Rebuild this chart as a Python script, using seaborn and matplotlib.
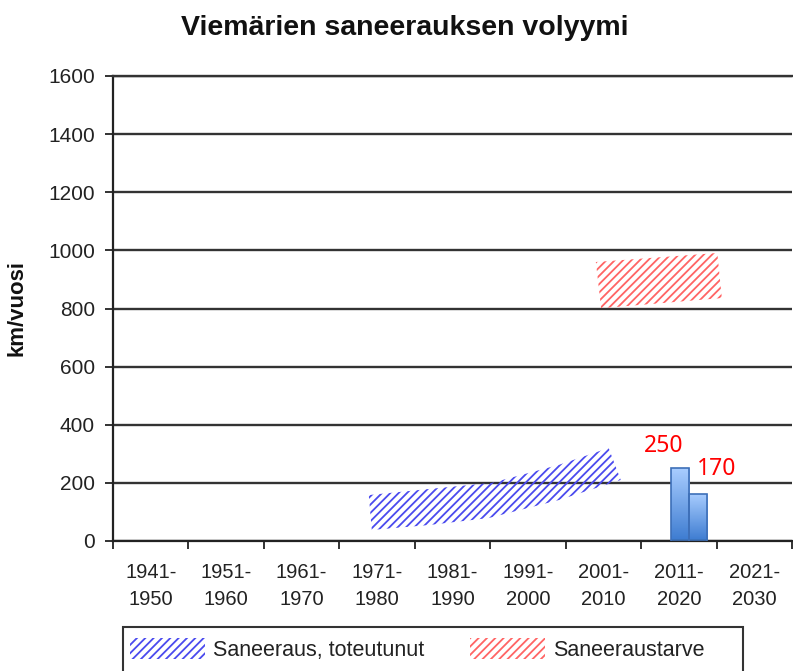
import numpy as np
import pandas as pd
import matplotlib
matplotlib.use("Agg")
import matplotlib.pyplot as plt
import seaborn as sns
from matplotlib.patches import Polygon, Patch, Rectangle

# ---------------- data ----------------
categories = ["1941-1950", "1951-1960", "1961-1970", "1971-1980", "1981-1990",
              "1991-2000", "2001-2010", "2011-2020", "2021-2030"]
tick_labels = [c.replace("-", "-\n") for c in categories]

# realised renovation band (x in category units, values in km/vuosi)
blue_x_upper = [2.89, 3.69, 4.52, 5.41, 6.07]
blue_upper = [158, 179, 200, 262, 320]
blue_x_lower = [2.93, 3.69, 4.48, 5.41, 6.23]
blue_lower = [38, 55, 79, 141, 210]

# renovation need band
red_x_upper = [5.90, 7.51]
red_upper = [960, 991]
red_x_lower = [5.97, 7.57]
red_lower = [801, 836]

bar_category = "2011-2020"
bar_values = [250, 162]
bar_labels = ["250", "170"]

title = "Viemärien saneerauksen volyymi"
ylabel = "km/vuosi"
legend_labels = ["Saneeraus, toteutunut", "Saneeraustarve"]

# ---------------- style ----------------
sns.set_style("white")
plt.rcParams["font.family"] = ["Liberation Sans", "DejaVu Sans"]
plt.rcParams["hatch.linewidth"] = 1.3

W, H = 793, 671
fig = plt.figure(figsize=(W / 100, H / 100), dpi=100)
ax = fig.add_axes([113 / W, 1 - 541 / H, 679 / W, 465 / H])

blue = "#4a4aee"
red = "#ff6464"

# bars
cat_idx = categories.index(bar_category)
bar_x = [cat_idx + 0.135 - 0.12, cat_idx + 0.135 + 0.12]
df = pd.DataFrame({"x": bar_x, "y": bar_values})
sns.barplot(data=df, x="x", y="y", native_scale=True, width=1.0,
            color="#6a9de0", edgecolor="#3d6fb8", linewidth=1.2, ax=ax,
            errorbar=None, legend=False)

grad = np.linspace(0, 1, 256).reshape(-1, 1)
cmap = matplotlib.colors.LinearSegmentedColormap.from_list("g", ["#3c7bd0", "#a9cdff"])
for p in list(ax.patches):
    x0, y0 = p.get_x(), p.get_y()
    w, h = p.get_width(), p.get_height()
    im = ax.imshow(grad, extent=[x0, x0 + w, y0, y0 + h], origin="lower",
                   cmap=cmap, aspect="auto", zorder=2.5)
    im.set_clip_path(p)
    p.set_zorder(2.6)
    p.set_facecolor("none")

# hatched bands
def band(xu, yu, xl, yl, color):
    pts = list(zip(xu, yu)) + list(zip(xl[::-1], yl[::-1]))
    poly = Polygon(pts, closed=True, facecolor="none", edgecolor=color,
                   hatch="////", linewidth=0, zorder=3)
    ax.add_patch(poly)

band(blue_x_upper, blue_upper, blue_x_lower, blue_lower, blue)
band(red_x_upper, red_upper, red_x_lower, red_lower, red)

# bar labels
offsets = [(-16, 16), (19, 19)]
for x, v, t, (dx, dy) in zip(bar_x, bar_values, bar_labels, offsets):
    ax.annotate(t, (x, v), xytext=(dx, dy), textcoords="offset pixels",
                ha="center", va="baseline", color="#ff0000", fontsize=16.5,
                family=["Noto Sans", "DejaVu Sans"], zorder=5)

# axes
ax.set_xlim(-0.5, len(categories) - 0.5)
ax.set_ylim(0, 1600)
ax.set_yticks(np.arange(0, 1601, 200))
ax.yaxis.grid(True, color="#333333", linewidth=1.7)
ax.xaxis.grid(False)
ax.set_axisbelow(True)

ax.set_xticks(np.arange(-0.5, len(categories) + 0.5, 1.0))
ax.set_xticklabels([])
ax.set_xticks(np.arange(len(categories)), minor=True)
ax.set_xticklabels(tick_labels, minor=True, fontsize=14.5, linespacing=1.5,
                   color="#222222")
ax.tick_params(axis="x", which="major", direction="out", length=6, width=1.3,
               color="#222222", bottom=True)
ax.tick_params(axis="x", which="minor", length=0, pad=16)
ax.tick_params(axis="y", direction="out", length=6, width=1.3, color="#222222",
               left=True, pad=7, labelsize=15, labelcolor="#222222")

for s in ["left", "bottom"]:
    ax.spines[s].set_color("#222222")
    ax.spines[s].set_linewidth(1.6)
ax.spines["top"].set_color("#333333")
ax.spines["top"].set_linewidth(1.7)
ax.spines["right"].set_visible(False)

ax.set_xlabel("")
ax.set_ylabel(ylabel, fontsize=16, fontweight="bold", color="#111111")
ax.yaxis.set_label_coords((28 - 113) / 679, 0.5)

fig.text(405 / W, 1 - 28 / H, title, ha="center", va="center",
         fontsize=20.5, fontweight="bold", color="#111111")

# legend
handles = [Patch(facecolor="none", edgecolor=blue, hatch="////", linewidth=0),
           Patch(facecolor="none", edgecolor=red, hatch="////", linewidth=0)]
fig.patches.append(Rectangle((123 / W, 1 - 690 / H), (743 - 123) / W, (690 - 627) / H,
                             transform=fig.transFigure, facecolor="white",
                             edgecolor="#333333", linewidth=1.5))
fig.legend(handles, legend_labels, loc="upper left",
           bbox_to_anchor=(130 / W, 1 - 638 / H), ncol=2, frameon=False,
           borderaxespad=0, borderpad=0, handlelength=3.49, handleheight=1.12,
           handletextpad=0.37, columnspacing=2.1, fontsize=15.5,
           labelcolor="#222222")

fig.savefig("out.png", dpi=100)
